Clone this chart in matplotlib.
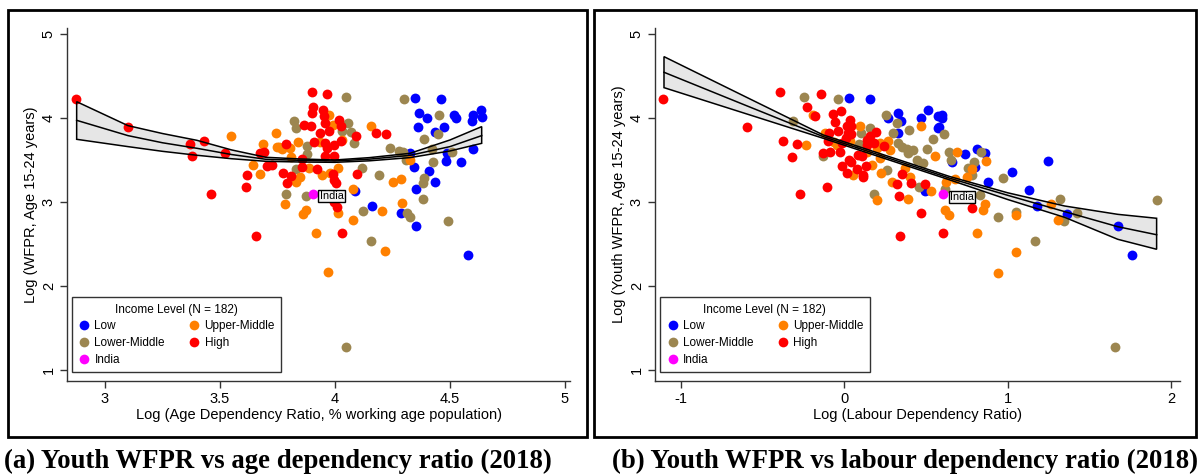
import matplotlib
matplotlib.use("Agg")
import matplotlib.pyplot as plt
from matplotlib.patches import Rectangle
from matplotlib.lines import Line2D
import numpy as np

# ---- data: log age dependency ratio (panel a) ----
age_x = [2.873, 3.099, 3.370, 3.432, 3.380, 3.523, 3.546, 3.462, 3.655, 3.612,
         3.619, 3.674, 3.643, 3.674, 3.690, 3.688, 3.706,
         3.901, 3.965, 4.046, 3.904, 3.900, 3.948, 3.952, 3.975, 3.822, 3.830,
         3.866, 3.896, 3.957, 3.993, 4.017, 4.026, 4.058, 4.029, 4.070, 3.975,
         3.935, 4.091, 4.083, 4.158, 4.180, 3.742, 3.758, 3.787, 3.804, 3.838,
         3.877, 3.910, 3.935, 3.957, 3.964, 3.997, 4.025, 4.030, 3.877, 3.957,
         3.996, 3.857, 3.807, 3.857, 3.920, 3.888, 3.830, 3.775, 3.807, 3.848,
         3.830, 3.942, 3.978, 4.014, 3.990, 3.996, 4.004, 4.097, 4.116, 4.190,
         3.790, 3.787, 3.874, 3.903, 3.783, 3.862, 3.874, 4.007, 4.014, 4.080,
         4.088, 4.160, 4.120, 4.077, 3.916, 4.029, 4.157, 3.971, 4.204, 3.725,
         3.997, 3.750, 3.770,
         4.222, 4.239, 4.278, 4.297, 4.300, 4.349, 4.462, 4.364, 4.399, 4.454,
         4.517, 4.525, 4.600, 4.633, 4.640, 4.594, 4.361, 4.474, 4.435, 4.447,
         4.386, 4.420, 4.326, 4.309, 4.326, 4.486, 4.509, 4.600, 4.484, 4.550,
         4.428, 4.342, 4.410, 4.386, 4.381, 4.436, 4.354, 4.384, 4.252, 4.286,
         4.293, 4.286, 4.315, 4.326, 4.354, 4.490, 4.217, 4.580, 4.050]
age_y = [4.226, 3.897, 3.694, 3.722, 3.548, 3.587, 3.790, 3.090, 2.600, 3.180,
         3.325, 3.330, 3.440, 3.580, 3.600, 3.687, 3.430,
         4.313, 4.280, 4.250, 4.130, 4.060, 4.090, 4.020, 4.040, 3.960, 3.880,
         3.920, 3.910, 3.940, 3.920, 3.980, 3.900, 3.940, 3.840, 3.830, 3.850,
         3.820, 3.780, 3.700, 3.900, 3.825, 3.820, 3.660, 3.690, 3.640, 3.710,
         3.670, 3.710, 3.710, 3.700, 3.640, 3.680, 3.720, 3.740, 3.570, 3.550,
         3.550, 3.510, 3.530, 3.420, 3.390, 3.410, 3.390, 3.340, 3.310, 3.300,
         3.240, 3.320, 3.340, 3.400, 3.330, 3.260, 3.220, 3.330, 3.400, 3.320,
         3.220, 3.100, 3.075, 3.100, 2.980, 2.860, 2.900, 2.940, 2.870, 3.150,
         3.135, 2.950, 2.890, 2.780, 2.630, 2.630, 2.530, 2.170, 2.890, 3.440,
         3.000, 3.650, 3.630,
         3.810, 3.640, 3.610, 3.600, 4.230, 4.240, 4.220, 4.060, 4.000, 4.040,
         4.040, 4.000, 4.040, 4.100, 4.010, 3.960, 3.890, 3.890, 3.830, 3.810,
         3.750, 3.630, 3.580, 3.500, 3.500, 3.580, 3.600, 3.630, 3.490, 3.480,
         3.480, 3.420, 3.370, 3.290, 3.230, 3.240, 3.150, 3.040, 3.240, 3.270,
         2.990, 2.870, 2.870, 2.820, 2.710, 2.770, 2.420, 2.370, 1.270]
age_grp = ["H", "H", "H", "H", "H", "H", "UM", "H", "H", "H",
           "H", "UM", "UM", "H", "H", "UM", "H",
           "H", "H", "LM", "H", "H", "H", "H", "UM", "LM", "LM",
           "H", "H", "H", "UM", "H", "H", "LM", "LM", "LM", "H",
           "H", "H", "LM", "UM", "H", "UM", "UM", "H", "UM", "UM",
           "LM", "H", "UM", "H", "H", "H", "H", "UM", "LM", "H",
           "H", "H", "UM", "H", "H", "UM", "LM", "H", "H", "UM",
           "UM", "UM", "UM", "UM", "H", "H", "H", "H", "LM", "LM",
           "H", "LM", "LM", "IN", "UM", "UM", "UM", "H", "UM", "UM",
           "L", "L", "LM", "UM", "UM", "H", "LM", "UM", "UM", "H",
           "H", "UM", "UM",
           "H", "LM", "LM", "LM", "LM", "L", "L", "L", "L", "LM",
           "L", "L", "L", "L", "L", "L", "L", "L", "L", "LM",
           "LM", "LM", "L", "LM", "UM", "L", "LM", "L", "L", "L",
           "LM", "L", "L", "LM", "LM", "L", "L", "LM", "UM", "UM",
           "UM", "L", "LM", "LM", "L", "LM", "UM", "L", "LM"]

# quadratic fit and 95% band
age_fit_x = [2.877, 3.10, 3.25, 3.40, 3.55, 3.70, 3.848, 4.00, 4.15, 4.326, 4.50, 4.638]
age_fit_mid = [3.972, 3.790, 3.705, 3.639, 3.565, 3.508, 3.496, 3.488, 3.510, 3.555, 3.659, 3.790]
age_fit_lo = [3.746, 3.659, 3.603, 3.556, 3.515, 3.484, 3.476, 3.472, 3.490, 3.528, 3.607, 3.698]
age_fit_hi = [4.194, 3.909, 3.815, 3.734, 3.620, 3.532, 3.512, 3.500, 3.528, 3.579, 3.738, 3.897]

# ---- data: log labour dependency ratio (panel b) ----
lab_x = [-1.105, -0.591, -0.390, -0.243, -0.224, -0.310, -0.373, -0.286, -0.234, -0.318,
         -0.267,
         -0.143, -0.037, 0.029, 0.159, -0.188, -0.177, -0.069, -0.020, -0.055, 0.037,
         0.016, 0.045, 0.098, 0.159, 0.104, 0.196, -0.035, -0.090, 0.026, 0.045,
         0.012, -0.116, -0.096, -0.060, -0.014, 0.037, 0.094, 0.139, 0.159, 0.183,
         0.139, 0.220, 0.245, 0.271, 0.281, 0.257, 0.332, 0.271, 0.322, 0.349,
         0.302, 0.328, 0.400, 0.473, 0.516, 0.469, 0.546, 0.577, 0.573, 0.332,
         0.353, 0.383, 0.424, 0.393, 0.444, 0.506, 0.557, 0.485, -0.086, -0.130,
         -0.127, -0.024, -0.041, 0.088, 0.110, 0.139, 0.200, 0.169, 0.220, 0.032,
         0.040, -0.014, 0.016, 0.078, 0.057, 0.118, 0.115, 0.135, 0.261, 0.224,
         0.292, 0.353, 0.373, 0.404, 0.408, 0.326, 0.459, 0.495, 0.530, 0.493,
         0.334, 0.390, 0.185, 0.200, -0.106, 0.469, 0.343,
         0.597, 0.597, 0.583, 0.613, 0.642, 0.689, 0.659, 0.653, 0.740, 0.811,
         0.836, 0.862, 0.868, 0.795, 0.800, 0.760, 0.780, 0.750, 0.783, 0.881,
         0.975, 1.030, 1.246, 1.131, 0.679, 0.624, 0.618, 0.604, 0.618, 0.642,
         0.781, 0.832, 0.862, 0.852, 0.940, 1.052, 1.050, 0.607, 0.815, 1.168,
         1.052, 0.944, 1.178, 1.266, 1.321, 1.362, 1.423, 1.307, 1.347, 1.674,
         1.761, 1.912, 1.660]
lab_y = [4.226, 3.890, 4.310, 4.250, 4.130, 3.960, 3.720, 3.690, 3.680, 3.540,
         3.090,
         4.280, 4.230, 4.240, 4.220, 4.040, 4.020, 4.050, 4.080, 3.950, 3.980,
         3.910, 3.900, 3.910, 3.880, 3.825, 3.830, 3.845, 3.825, 3.820, 3.810,
         3.760, 3.825, 3.720, 3.710, 3.700, 3.720, 3.690, 3.740, 3.780, 3.700,
         3.680, 3.700, 3.670, 3.720, 3.620, 4.040, 4.060, 4.000, 3.940, 3.960,
         3.825, 3.825, 3.860, 4.000, 4.100, 3.900, 3.750, 4.020, 3.880, 3.700,
         3.660, 3.630, 3.620, 3.580, 3.500, 3.630, 3.550, 3.460, 3.600, 3.580,
         3.550, 3.600, 3.680, 3.560, 3.550, 3.600, 3.640, 3.440, 3.520, 3.500,
         3.480, 3.430, 3.340, 3.390, 3.320, 3.320, 3.300, 3.430, 3.380, 3.340,
         3.240, 3.330, 3.400, 3.300, 3.230, 3.210, 3.180, 3.210, 3.130, 3.130,
         3.070, 3.040, 3.090, 3.020, 3.180, 2.865, 2.600,
         4.040, 4.000, 3.890, 3.810, 3.600, 3.590, 3.470, 3.500, 3.570, 3.630,
         3.600, 3.580, 3.490, 3.480, 3.420, 3.400, 3.390, 3.300, 3.320, 3.240,
         3.280, 3.360, 3.490, 3.140, 3.270, 3.240, 3.160, 3.095, 2.910, 2.850,
         2.930, 3.080, 2.980, 2.900, 2.820, 2.885, 2.840, 2.630, 2.630, 2.530,
         2.410, 2.160, 2.950, 2.980, 3.040, 2.860, 2.865, 2.780, 2.770, 2.710,
         2.370, 3.020, 1.270]
lab_grp = ["H", "H", "H", "LM", "H", "LM", "H", "H", "UM", "H",
           "H",
           "H", "LM", "L", "L", "UM", "H", "H", "H", "H", "H",
           "H", "H", "UM", "LM", "LM", "H", "H", "H", "H", "H",
           "H", "UM", "H", "UM", "H", "UM", "LM", "H", "H", "H",
           "H", "UM", "H", "UM", "UM", "LM", "L", "L", "LM", "L",
           "LM", "L", "LM", "L", "L", "UM", "LM", "L", "L", "LM",
           "LM", "LM", "LM", "LM", "LM", "LM", "UM", "LM", "H", "H",
           "LM", "H", "UM", "H", "H", "UM", "UM", "UM", "UM", "H",
           "H", "H", "H", "H", "UM", "H", "H", "H", "LM", "UM",
           "UM", "H", "UM", "UM", "H", "H", "LM", "H", "UM", "L",
           "H", "UM", "LM", "UM", "H", "H", "H",
           "L", "L", "L", "LM", "LM", "UM", "L", "LM", "L", "L",
           "LM", "L", "UM", "LM", "L", "LM", "UM", "UM", "LM", "L",
           "LM", "L", "L", "L", "UM", "UM", "LM", "IN", "UM", "UM",
           "H", "LM", "UM", "UM", "LM", "LM", "UM", "H", "UM", "LM",
           "UM", "UM", "L", "UM", "LM", "L", "LM", "UM", "LM", "L",
           "L", "LM", "LM"]

# fitted line and 95% band
lab_fit_x = [-1.101, -0.60, -0.127, 0.648, 1.00, 1.35, 1.674, 1.912]
lab_fit_mid = [4.544, 4.149, 3.778, 3.282, 3.080, 2.885, 2.706, 2.610]
lab_fit_lo = [4.361, 4.051, 3.758, 3.262, 3.030, 2.817, 2.556, 2.437]
lab_fit_hi = [4.730, 4.250, 3.798, 3.302, 3.110, 2.952, 2.853, 2.806]

grp_codes = ["L", "LM", "IN", "UM", "H"]
grp_names = ["Low", "Lower-Middle", "India", "Upper-Middle", "High"]
grp_colors = {"L": "#0000ff", "LM": "#9c8650", "UM": "#ff8000",
              "H": "#ff0000", "IN": "#ff00ff"}


def draw_panel(ax, x, y, grp, fx, fmid, flo, fhi, xlim, xticks, xticklabels,
               xlabel, ylabel):
    poly_x = list(fx) + list(fx[::-1])
    poly_y = list(flo) + list(fhi[::-1])
    ax.fill(poly_x, poly_y, facecolor="#e6e6e6", edgecolor="none", zorder=1)

    x = np.asarray(x); y = np.asarray(y); grp = np.asarray(grp)
    for g in ["L", "LM", "UM", "H", "IN"]:
        m = grp == g
        ax.scatter(x[m], y[m], s=50, color=grp_colors[g], linewidths=0, zorder=2)

    ax.fill(poly_x, poly_y, facecolor="none", edgecolor="black", lw=1.1, zorder=3)
    ax.plot(fx, fmid, color="black", lw=1.1, zorder=3)

    # India label
    m = grp == "IN"
    ax.annotate("India", (x[m][0], y[m][0]), xytext=(5, -2), textcoords="offset points",
                ha="left", va="center", fontsize=7.8, zorder=4,
                bbox=dict(boxstyle="square,pad=0.1", fc="#f4f4f4", ec="black", lw=1))

    ax.set_xlim(xlim)
    ax.set_ylim(0.869, 5.071)
    ax.set_xticks(xticks)
    ax.set_xticklabels(xticklabels)
    ax.set_yticks([1, 2, 3, 4, 5])
    ax.set_yticklabels(["1", "2", "3", "4", "5"], rotation=90, va="center")
    for s in ["top", "right"]:
        ax.spines[s].set_visible(False)
    for s in ["left", "bottom"]:
        ax.spines[s].set_color("#333333")
        ax.spines[s].set_linewidth(1.0)
    ax.tick_params(direction="out", length=5, width=1, color="#333333",
                   labelsize=10.5, pad=3)
    ax.set_xlabel(xlabel, fontsize=10.5, labelpad=1)
    ax.set_ylabel(ylabel, fontsize=10.5, labelpad=3)

    handles = [Line2D([0], [0], marker="o", ls="none", markersize=7,
                      markerfacecolor=grp_colors[c], markeredgewidth=0)
               for c in grp_codes]
    leg = ax.legend(handles, grp_names, title="Income Level (N = 182)", ncol=2,
                    loc="lower left", bbox_to_anchor=(0.01, 0.025),
                    fontsize=8.5, title_fontsize=8.5, frameon=True, fancybox=False,
                    edgecolor="black", handletextpad=0.35, columnspacing=2.0,
                    labelspacing=0.4, borderpad=0.55, handlelength=1.0,
                    borderaxespad=0)
    leg.get_frame().set_linewidth(1.0)


plt.rcParams["font.family"] = ["Liberation Sans", "DejaVu Sans"]

fig = plt.figure(figsize=(11.98, 4.75), dpi=100)

ax1 = fig.add_axes([67 / 1198, 1 - 381 / 475, 503 / 1198, 353 / 475])
draw_panel(ax1, age_x, age_y, age_grp, age_fit_x, age_fit_mid, age_fit_lo, age_fit_hi,
           (2.835, 5.022), [3, 3.5, 4, 4.5, 5], ["3", "3.5", "4", "4.5", "5"],
           "Log (Age Dependency Ratio, % working age population)",
           "Log (WFPR, Age 15-24 years)")

ax2 = fig.add_axes([655 / 1198, 1 - 381 / 475, 525 / 1198, 353 / 475])
draw_panel(ax2, lab_x, lab_y, lab_grp, lab_fit_x, lab_fit_mid, lab_fit_lo, lab_fit_hi,
           (-1.156, 2.055), [-1, 0, 1, 2], ["-1", "0", "1", "2"],
           "Log (Labour Dependency Ratio)",
           "Log (Youth WFPR, Age 15-24 years)")

# frames round each panel
fig.patches.append(Rectangle((8 / 1198, 1 - 437 / 475), 579 / 1198, 427 / 475,
                             transform=fig.transFigure, fill=False, ec="black", lw=2))
fig.patches.append(Rectangle((594 / 1198, 1 - 437 / 475), 602 / 1198, 427 / 475,
                             transform=fig.transFigure, fill=False, ec="black", lw=2))

# sub-figure captions
fig.text(4 / 1198, 1 - 461 / 475, "(a) Youth WFPR vs age dependency ratio (2018)",
         family="Liberation Serif", weight="bold", fontsize=19.3, va="center", ha="left")
fig.text(612 / 1198, 1 - 461 / 475, "(b) Youth WFPR vs labour dependency ratio (2018)",
         family="Liberation Serif", weight="bold", fontsize=19.3, va="center", ha="left")

fig.savefig("out.png", dpi=100, facecolor="white")
